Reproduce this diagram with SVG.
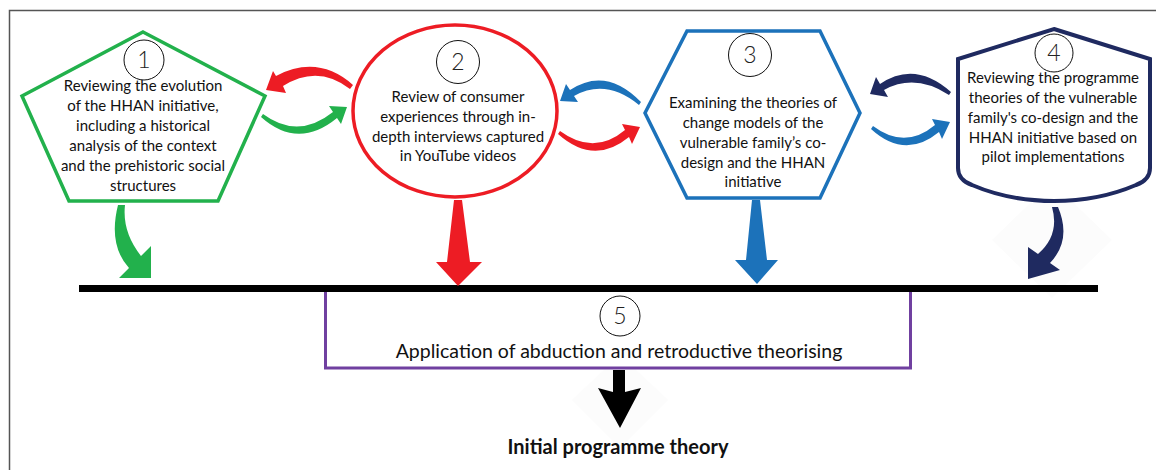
<svg xmlns="http://www.w3.org/2000/svg" width="1156" height="470" viewBox="0 0 1156 470">
<style>
  .t { font-family: "Lato", "Liberation Sans", sans-serif; font-size: 15px; fill: #111; text-anchor: middle; }
  .num { font-family: "Lato", "Liberation Sans", sans-serif; font-size: 23px; font-weight: 300; fill: #222; text-anchor: middle; }
  .badge { fill: #fff; stroke: #111; stroke-width: 1; }
  .big { font-family: "Lato", "Liberation Sans", sans-serif; font-size: 19.5px; fill: #111; text-anchor: middle; }
  .bold { font-family: "Lato", "Liberation Sans", sans-serif; font-size: 20px; font-weight: bold; fill: #111; text-anchor: middle; }
  .green { fill: #22b14c; }
  .red { fill: #ed1c24; }
  .blue { fill: #1c72ba; }
  .navy { fill: #1f2a60; }
</style>
<rect width="1156" height="470" fill="#fff"/>
<!-- frame -->
<path d="M9.5,470 V10.5 H1156" fill="none" stroke="#555" stroke-width="1.5"/>

<!-- faint background diamonds -->
<polygon points="1052,182 1112,240 1052,298 992,240" fill="#fcfcfc"/>
<polygon points="620,355 668,400 620,448 572,400" fill="#fcfcfc"/>

<g id="node1">
  <polygon points="143,32 265,96 218,201 69,201 22,96" fill="#fff" stroke="#22b14c" stroke-width="3.5" stroke-linejoin="miter"/>
  <circle class="badge" cx="144" cy="60" r="20"/>
  <text class="num" x="144" y="68">1</text>
  <text class="t" x="143" y="91">Reviewing the evolution</text>
  <text class="t" x="143" y="111">of the HHAN initiative,</text>
  <text class="t" x="143" y="131">including a historical</text>
  <text class="t" x="143" y="151">analysis of the context</text>
  <text class="t" x="143" y="171">and the prehistoric social</text>
  <text class="t" x="143" y="191">structures</text>
</g>

<g id="node2">
  <ellipse cx="455" cy="111" rx="102" ry="86" fill="#fff" stroke="#ed1c24" stroke-width="3.5"/>
  <circle class="badge" cx="458" cy="62" r="21.5"/>
  <text class="num" x="458" y="70">2</text>
  <text class="t" x="458" y="102">Review of consumer</text>
  <text class="t" x="458" y="122">experiences through in-</text>
  <text class="t" x="458" y="142">depth interviews captured</text>
  <text class="t" x="458" y="161">in YouTube videos</text>
</g>

<g id="node3">
  <polygon points="687,31 820,31 860,113 820,198 687,198 645,113" fill="#fff" stroke="#1c72ba" stroke-width="3.5"/>
  <circle class="badge" cx="750" cy="55" r="21.5"/>
  <text class="num" x="750" y="63">3</text>
  <text class="t" x="753" y="108">Examining the theories of</text>
  <text class="t" x="753" y="128">change models of the</text>
  <text class="t" x="753" y="148">vulnerable family’s co-</text>
  <text class="t" x="753" y="168">design and the HHAN</text>
  <text class="t" x="753" y="187">initiative</text>
</g>

<g id="node4">
  <path d="M1054,29 L1150,59 L1150,168 Q1150,180 1136,185 C1108,197 1083,201 1054,201 C1025,201 1000,197 972,185 Q958,180 958,168 L958,59 Z" fill="#fff" stroke="#1f2a60" stroke-width="4" stroke-linejoin="miter"/>
  <circle class="badge" cx="1054" cy="53" r="19"/>
  <text class="num" x="1054" y="61">4</text>
  <text class="t" x="1053" y="83">Reviewing the programme</text>
  <text class="t" x="1053" y="103">theories of the vulnerable</text>
  <text class="t" x="1053" y="123">family's co-design and the</text>
  <text class="t" x="1053" y="143">HHAN initiative based on</text>
  <text class="t" x="1053" y="162">pilot implementations</text>
</g>

<g id="node5">
  <rect x="79" y="285" width="1019" height="7" fill="#000"/>
  <path d="M325.5,292 V368 H910.5 V292" fill="#fff" stroke="#7040a0" stroke-width="3"/>
  <circle class="badge" cx="620" cy="316" r="20"/>
  <text class="num" x="620" y="324">5</text>
  <text class="big" x="619" y="358">Application of abduction and retroductive theorising</text>
</g>

<g id="result">
  <text class="bold" x="618" y="454">Initial programme theory</text>
</g>

<g id="connectors">
  <!-- 2 -> 1 (red, top) -->
  <path class="red" d="M353,85 Q318,54 276,76 L273,71 L266,90 L286,93 L283,86 Q318,64 350,89 Z"/>
  <!-- 1 -> 2 (green, bottom) -->
  <path class="green" d="M263,114 Q298,140 333,112 L329,106 L347,107 L341,124 L337,118 Q298,150 261,117 Z"/>
  <!-- 3 -> 2 (blue, top) -->
  <path class="blue" d="M641,102 Q606,66 570,90 L566,84 L560,101 L578,102 L574,96 Q606,78 639,105 Z"/>
  <!-- 2 -> 3 (red, bottom) -->
  <path class="red" d="M560,131 Q594,156 625,130 L622,124 L640,127 L632,144 L629,137 Q594,166 558,134 Z"/>
  <!-- 4 -> 3 (navy, top) -->
  <path class="navy" d="M951,92 Q915,60 880,84 L876,77 L870,94 L888,97 L884,90 Q915,73 949,95 Z"/>
  <!-- 3 -> 4 (blue, bottom) -->
  <path class="blue" d="M873,126 Q905,150 935,125 L932,119 L950,122 L942,139 L939,132 Q905,160 871,129 Z"/>
  <!-- down arrows -->
  <path class="green" d="M118,205 Q108,245 129,268 L119,278 L151,278 L151,246 L141,256 Q122,232 125,205 Z"/>
  <path class="red" d="M454,200 L462,200 L470,262 L482,262 L458,286 L436,262 L447,262 Z"/>
  <path class="blue" d="M752,200 L760,200 L767,260 L778,260 L757,284 L735,260 L746,260 Z"/>
  <path class="navy" d="M1052,207 Q1060,235 1038,254 L1028,247 L1028,279 L1060,270 L1050,263 Q1072,240 1058,207 Z"/>
  <path fill="#000" d="M613,370 L625,370 L625,392 L641,388 L620,428 L598,388 L613,392 Z"/>
</g>
</svg>
